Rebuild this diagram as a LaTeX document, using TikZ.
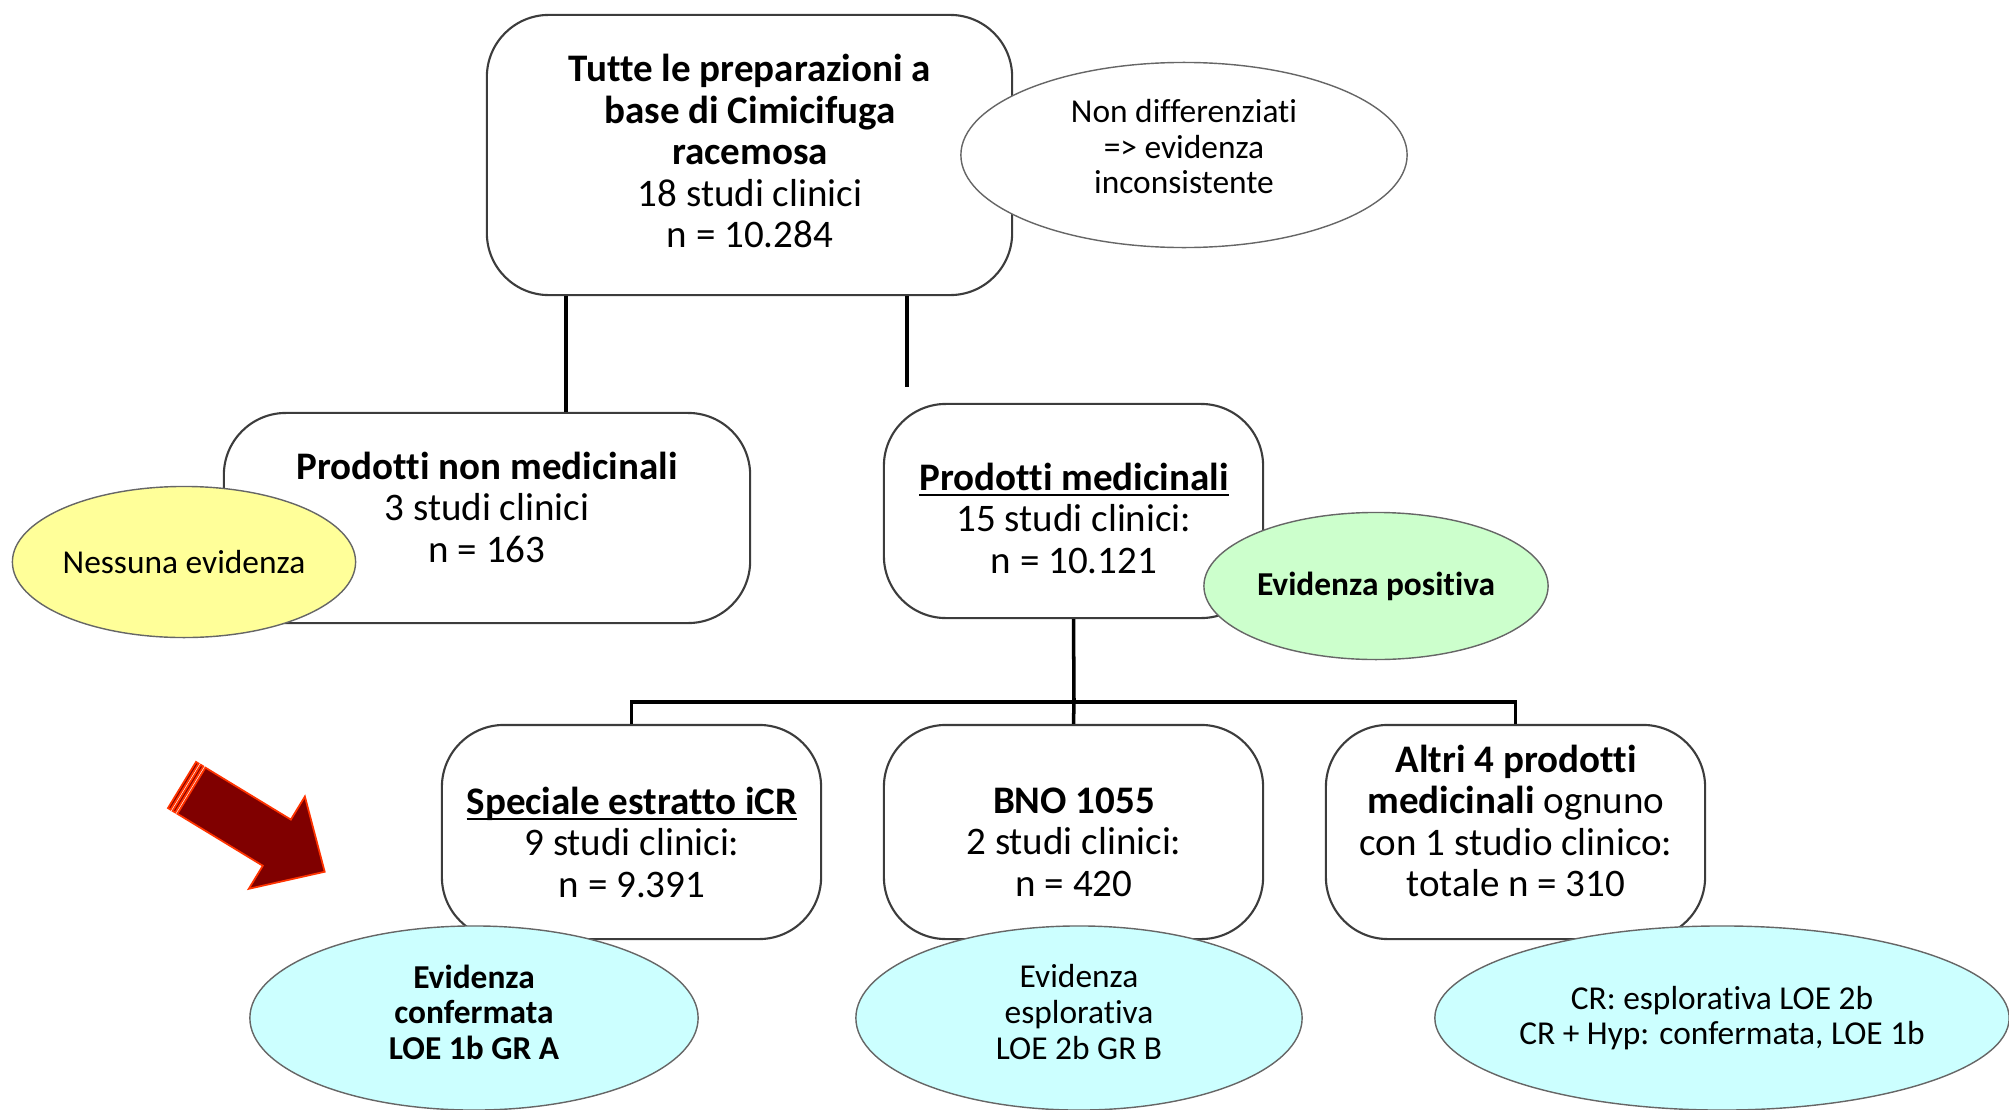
\documentclass[tikz,border=0pt]{standalone}
\usepackage{fontspec}
\setmainfont{Carlito}[Ligatures=NoCommon]
\usepackage{xcolor}
\usepackage{tikz}
\usetikzlibrary{shapes.geometric, positioning, calc}
\definecolor{bubyellow}{RGB}{255,255,153}
\definecolor{bubgreen}{RGB}{204,255,204}
\definecolor{bubcyan}{RGB}{204,255,255}
\definecolor{boxline}{RGB}{60,60,60}
\definecolor{arrowfill}{RGB}{128,0,0}
\definecolor{arrowedge}{RGB}{255,51,0}
\newcommand{\ulbold}[1]{\underline{\raisebox{0pt}[\height][0pt]{\textbf{#1}}}}

\tikzset{
  box/.style={draw=boxline, line width=0.6pt, fill=white, rounded corners=0.62cm,
    inner sep=0pt},
  boxtext/.style={align=center, inner sep=0pt, font=\fontsize{11.1}{11.8}\selectfont},
  bubble/.style={ellipse, draw=gray!80!black, line width=0.4pt, align=center,
    inner sep=0pt, font=\fontsize{9.5}{10.1}\selectfont},
  bubbletext/.style={align=center, inner sep=0pt, font=\fontsize{9.5}{10.1}\selectfont}
}
\tikzset{link/.style={line width=1pt, black}}

\begin{document}
\begin{tikzpicture}[x=0.01cm, y=-0.01cm]
  \useasboundingbox (0,0) rectangle (2009,1109);

  % Boxes
  \node[box, minimum width=5.25cm, minimum height=2.8cm] (all) at (749.5,155) {};
  \node[box, minimum width=5.26cm, minimum height=2.1cm] (nonmed) at (487,518) {};
  \node[box, minimum width=3.79cm, minimum height=2.14cm] (med) at (1073.5,511) {};
  \node[box, minimum width=3.79cm, minimum height=2.14cm] (icr) at (631.5,832) {};
  \node[box, minimum width=3.79cm, minimum height=2.14cm] (bno) at (1073.5,832) {};
  \node[box, minimum width=3.79cm, minimum height=2.14cm] (altri) at (1515.5,832) {};

  % Box texts
  \node[boxtext] (alltxt) at (750,151)
    {\textbf{Tutte le preparazioni a}\\ \textbf{base di Cimicifuga}\\ \textbf{racemosa}\\ 18 studi clinici\\ n = 10.284};
  \node[boxtext] (nonmedtxt) at (487,507)
    {\textbf{Prodotti non medicinali}\\ 3 studi clinici\\ n = 163};
  \node[boxtext] (medtxt) at (1074,518)
    {\ulbold{Prodotti medicinali}\\ 15 studi clinici:\\ n = 10.121};
  \node[boxtext] (icrtxt) at (632,842)
    {\ulbold{Speciale estratto iCR}\\ 9 studi clinici:\\ n = 9.391};
  \node[boxtext] (bnotxt) at (1074,842)
    {\textbf{BNO 1055}\\ 2 studi clinici:\\ n = 420};
  \node[boxtext] (altritxt) at (1516,821)
    {\textbf{Altri 4 prodotti}\\ \textbf{medicinali} ognuno\\ con 1 studio clinico:\\ totale n = 310};

  % Connectors
  \coordinate (medend) at (907,387);
  \coordinate (bus) at (1074,702);
  \draw[link] (566,0 |- all.south) -- (566,0 |- nonmed.north);
  \draw[link] (907,0 |- all.south) -- (medend);
  \draw[link] (med.south) -- (bus);
  \draw[link] (icr.north) |- (bus) -| (altri.north);
  \draw[link] (bno.north) -- (bus);

  % Evidence ellipses
  \node[bubble, fill=white, minimum width=4.46cm, minimum height=1.85cm] (incons) at (1184,155) {};
  \node[bubbletext] (inconstxt) at (1184,147)
    {Non differenziati\\ => evidenza\\ inconsistente};
  \node[bubble, fill=bubyellow, minimum width=3.43cm, minimum height=1.51cm] (none) at (184,562)
    {Nessuna evidenza};
  \node[bubble, fill=bubgreen, minimum width=3.44cm, minimum height=1.47cm] (pos) at (1376,586)
    {\textbf{Evidenza positiva}};
  \node[bubble, fill=bubcyan, minimum width=4.48cm, minimum height=1.84cm] (conf) at (474,1018) {};
  \node[bubbletext] (conftxt) at (474,1012)
    {\textbf{Evidenza}\\ \textbf{confermata}\\ \textbf{LOE 1b GR A}};
  \node[bubble, fill=bubcyan, minimum width=4.46cm, minimum height=1.84cm] (expl) at (1079,1018) {};
  \node[bubbletext] (expltxt) at (1079,1012)
    {Evidenza\\ esplorativa\\ LOE 2b GR B};
  \node[bubble, fill=bubcyan, minimum width=5.74cm, minimum height=1.84cm] (mix) at (1722,1018)
    {CR: esplorativa LOE 2b\\ CR + Hyp: confermata, LOE 1b};

  % Striped arrow
  \begin{scope}[shift={(182,785)}, rotate=-31.3,
      fill=arrowfill, draw=arrowedge, line width=0.5pt]
    \filldraw (0,-27) rectangle (3,27);
    \filldraw (5.5,-27) rectangle (8.5,27);
    \filldraw (11,-27) -- (111,-27) -- (111,-54) -- (167,0) --
      (111,54) -- (111,27) -- (11,27) -- cycle;
  \end{scope}
\end{tikzpicture}
\end{document}
